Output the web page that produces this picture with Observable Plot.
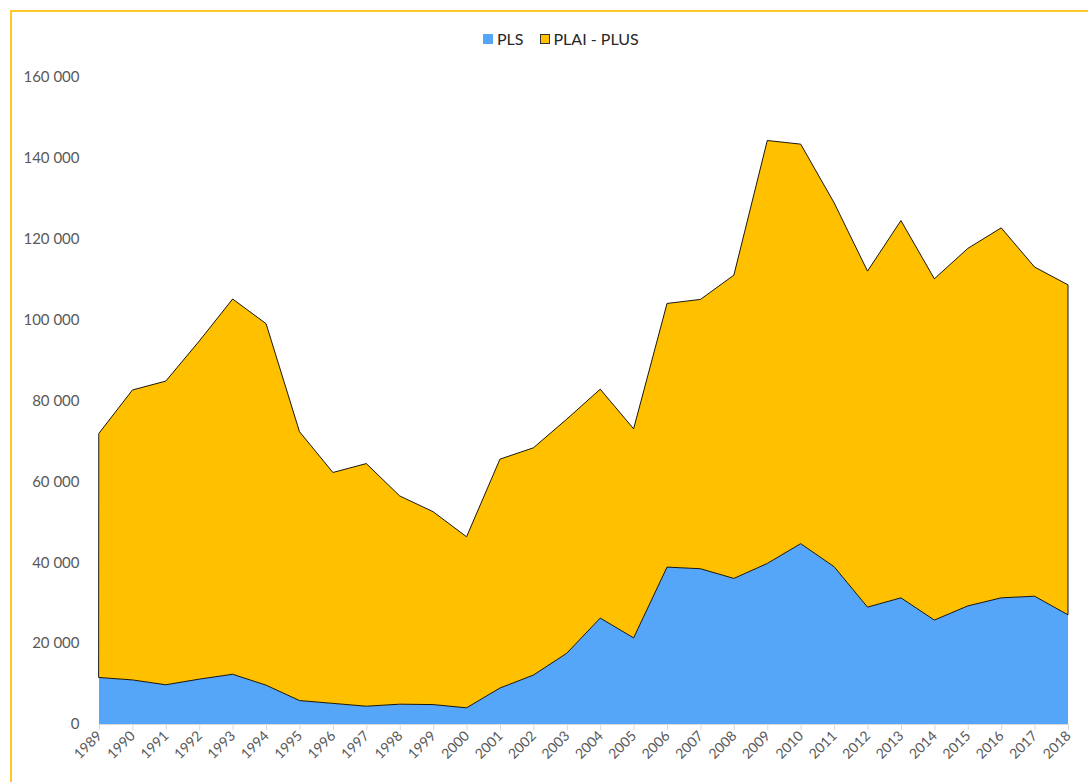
<!DOCTYPE html>
<html>
<head>
<meta charset="utf-8">
<script src="https://cdn.jsdelivr.net/npm/d3@7"></script>
<script src="https://cdn.jsdelivr.net/npm/@observablehq/plot@0.6"></script>
<style>
  html, body { margin: 0; padding: 0; background: #fff; }
  body { width: 1088px; height: 782px; overflow: hidden; position: relative; font-family: Lato, "Open Sans", sans-serif; }
  #frameTop { position: absolute; left: 10px; top: 10px; width: 1100px; height: 2px; background: rgb(255, 200, 40); }
  #frameLeft { position: absolute; left: 10px; top: 10px; width: 2px; height: 800px; background: rgb(255, 200, 40); }
  #chart { position: absolute; left: 0; top: 0; }
  #legend { position: absolute; left: 483px; top: 30px; display: flex; align-items: center; font-size: 16px; color: #262626; line-height: 18px; }
  .sw { width: 10px; height: 10px; box-sizing: border-box; display: inline-block; margin-right: 4px; }
  .item { display: flex; align-items: center; margin-right: 16px; }
</style>
</head>
<body>
<div id="chart"></div>
<div id="legend"></div>
<div id="frameTop"></div>
<div id="frameLeft"></div>
<script>
const years = [1989, 1990, 1991, 1992, 1993, 1994, 1995, 1996, 1997, 1998,
               1999, 2000, 2001, 2002, 2003, 2004, 2005, 2006, 2007, 2008,
               2009, 2010, 2011, 2012, 2013, 2014, 2015, 2016, 2017, 2018];
const pls = [11500, 10900, 9700, 11100, 12300, 9600, 5800, 5100, 4400, 4900,
             4800, 4000, 8900, 12100, 17500, 26200, 21300, 38800, 38400, 36000,
             39700, 44600, 38900, 28900, 31200, 25700, 29200, 31200, 31600, 27000];
const plaiPlus = [60400, 71700, 75100, 83600, 92800, 89400, 66500, 57100, 60000, 51500,
                  47700, 42300, 56600, 56200, 57900, 56600, 51700, 65200, 66600, 75000,
                  104600, 98800, 90000, 83100, 93300, 84400, 88400, 91500, 81400, 81600];
const seriesNames = ["PLS", "PLAI - PLUS"];
const seriesColors = ["#55A5F8", "#FFC000"];
const yTicks = [0, 20000, 40000, 60000, 80000, 100000, 120000, 140000, 160000];

const rows = [];
years.forEach((yr, i) => {
  rows.push({year: yr, series: seriesNames[0], value: pls[i]});
  rows.push({year: yr, series: seriesNames[1], value: plaiPlus[i]});
});

const fmt = d => d3.format(",")(d).replace(/,/g, " ");

const chart = Plot.plot({
  width: 1088,
  height: 782,
  marginTop: 77,
  marginBottom: 58,
  marginLeft: 99,
  marginRight: 20,
  style: {fontFamily: "Lato, 'Open Sans', sans-serif", color: "#595959", background: "transparent"},
  x: {type: "linear", domain: [years[0], years[years.length - 1]]},
  y: {domain: [0, 160000]},
  color: {domain: seriesNames, range: seriesColors},
  marks: [
    Plot.areaY(rows, Plot.stackY({
      x: "year", y: "value", z: "series", order: seriesNames,
      fill: "series",
      stroke: d => d.series === seriesNames[0] ? "none" : "#000000",
      strokeWidth: 0.9
    })),
    Plot.ruleY([0], {stroke: "#D9D9D9", strokeWidth: 1}),
    Plot.axisY({
      ticks: yTicks, tickFormat: fmt, tickSize: 0, tickPadding: 20,
      fontSize: 15, fill: "#595959", label: null
    }),
    Plot.axisX({
      ticks: years, tickFormat: d => String(d), tickRotate: -45,
      tickSize: 6, tickPadding: 3, stroke: "#D9D9D9", fill: "#595959",
      fontSize: 14, label: null
    })
  ]
});
document.getElementById("chart").appendChild(chart);

const legend = document.getElementById("legend");
seriesNames.forEach((name, i) => {
  const item = document.createElement("div");
  item.className = "item";
  const sw = document.createElement("span");
  sw.className = "sw";
  sw.style.background = seriesColors[i];
  if (i === 1) sw.style.border = "1px solid #333";
  const t = document.createElement("span");
  t.textContent = name;
  item.appendChild(sw);
  item.appendChild(t);
  legend.appendChild(item);
});
</script>
</body>
</html>
